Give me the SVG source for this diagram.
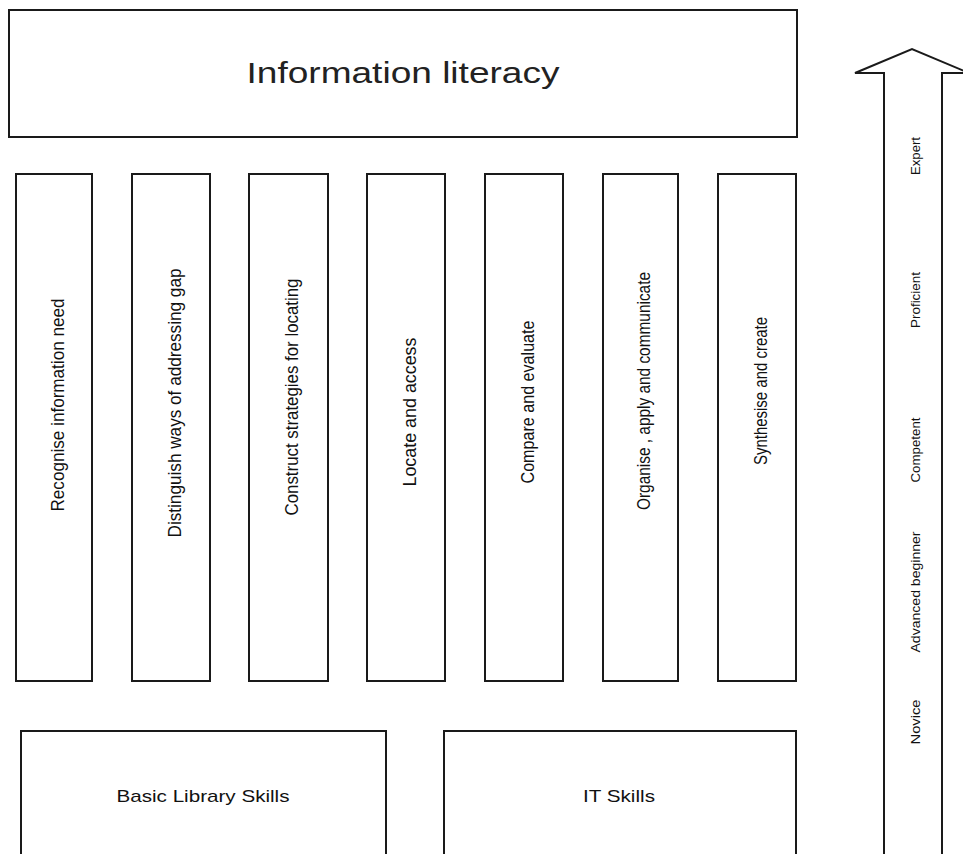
<svg xmlns="http://www.w3.org/2000/svg" width="963" height="854" viewBox="0 0 963 854">
  <style>
    .box { fill: #ffffff; stroke: #1a1a1a; stroke-width: 2; }
    .lbl { font-family: "Liberation Sans", Arial, sans-serif; fill: #111111; }
    .title { font-size: 29px; fill: #222222; }
    .col { font-size: 18px; }
    .base { font-size: 17px; }
    .lvl { font-size: 13px; }
  </style>
  <rect width="963" height="854" fill="#ffffff"/>

  <!-- Heading -->
  <g id="information-literacy">
    <rect class="box" x="9" y="10" width="788" height="127"/>
    <text class="lbl title" x="403" y="83" text-anchor="middle" textLength="313" lengthAdjust="spacingAndGlyphs">Information literacy</text>
  </g>

  <!-- Seven pillars -->
  <g id="recognise">
    <rect class="box" x="16" y="174" width="76" height="507"/>
    <text class="lbl col" transform="translate(64,405) rotate(-90)" text-anchor="middle" textLength="213" lengthAdjust="spacingAndGlyphs">Recognise information need</text>
  </g>
  <g id="distinguish">
    <rect class="box" x="132" y="174" width="78" height="507"/>
    <text class="lbl col" transform="translate(181,403) rotate(-90)" text-anchor="middle" textLength="269" lengthAdjust="spacingAndGlyphs">Distinguish ways of addressing gap</text>
  </g>
  <g id="construct">
    <rect class="box" x="249" y="174" width="79" height="507"/>
    <text class="lbl col" transform="translate(298,397) rotate(-90)" text-anchor="middle" textLength="237" lengthAdjust="spacingAndGlyphs">Construct strategies for locating</text>
  </g>
  <g id="locate">
    <rect class="box" x="367" y="174" width="78" height="507"/>
    <text class="lbl col" transform="translate(416,412) rotate(-90)" text-anchor="middle" textLength="149" lengthAdjust="spacingAndGlyphs">Locate and access</text>
  </g>
  <g id="compare">
    <rect class="box" x="485" y="174" width="78" height="507"/>
    <text class="lbl col" transform="translate(534,402) rotate(-90)" text-anchor="middle" textLength="163" lengthAdjust="spacingAndGlyphs">Compare and evaluate</text>
  </g>
  <g id="organise">
    <rect class="box" x="603" y="174" width="75" height="507"/>
    <text class="lbl col" transform="translate(650,391) rotate(-90)" text-anchor="middle" textLength="238" lengthAdjust="spacingAndGlyphs">Organise , apply and communicate</text>
  </g>
  <g id="synthesise">
    <rect class="box" x="718" y="174" width="78" height="507"/>
    <text class="lbl col" transform="translate(767,391) rotate(-90)" text-anchor="middle" textLength="148" lengthAdjust="spacingAndGlyphs">Synthesise and create</text>
  </g>

  <!-- Foundations -->
  <g id="basic-library-skills">
    <rect class="box" x="21" y="731" width="365" height="140"/>
    <text class="lbl base" x="203" y="802" text-anchor="middle" textLength="173" lengthAdjust="spacingAndGlyphs">Basic Library Skills</text>
  </g>
  <g id="it-skills">
    <rect class="box" x="444" y="731" width="352" height="140"/>
    <text class="lbl base" x="619" y="802" text-anchor="middle" textLength="72" lengthAdjust="spacingAndGlyphs">IT Skills</text>
  </g>

  <!-- Progression arrow with levels -->
  <g id="progression">
    <polygon class="box" points="884,870 884,73 855,73 912,49 969,73 942,73 942,870"/>
    <text class="lbl lvl" transform="translate(920,156) rotate(-90)" text-anchor="middle" textLength="38" lengthAdjust="spacingAndGlyphs">Expert</text>
    <text class="lbl lvl" transform="translate(920,300) rotate(-90)" text-anchor="middle" textLength="56" lengthAdjust="spacingAndGlyphs">Proficient</text>
    <text class="lbl lvl" transform="translate(920,450) rotate(-90)" text-anchor="middle" textLength="65" lengthAdjust="spacingAndGlyphs">Competent</text>
    <text class="lbl lvl" transform="translate(920,592) rotate(-90)" text-anchor="middle" textLength="121" lengthAdjust="spacingAndGlyphs">Advanced beginner</text>
    <text class="lbl lvl" transform="translate(920,722) rotate(-90)" text-anchor="middle" textLength="45" lengthAdjust="spacingAndGlyphs">Novice</text>
  </g>

  <g id="connectors"></g>
</svg>
